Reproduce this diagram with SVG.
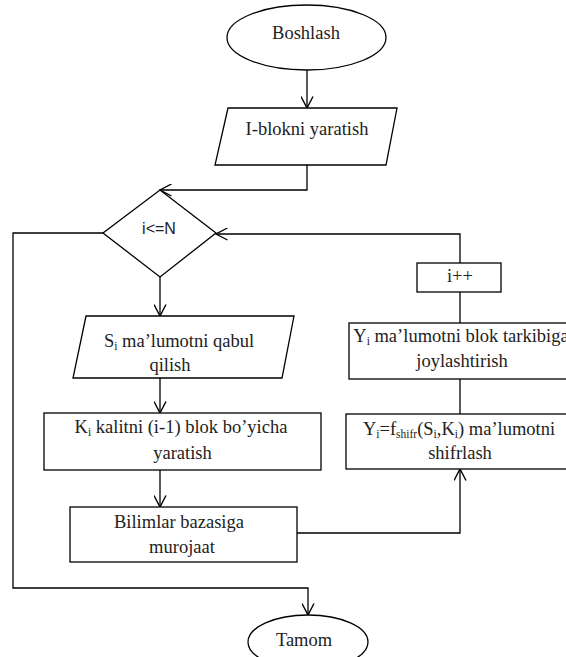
<svg xmlns="http://www.w3.org/2000/svg" width="566" height="657" viewBox="0 0 566 657">
<defs>
<marker id="arr" viewBox="0 0 13 13" refX="12" refY="6.5" markerWidth="13" markerHeight="13" markerUnits="userSpaceOnUse" orient="auto">
<path d="M0.5,0.5 L12,6.5 L0.5,12.5" fill="none" stroke="#000" stroke-width="1.4"/>
</marker>
<style>
.s{fill:#fff;stroke:#000;stroke-width:1.3}
.t{font-family:"Liberation Serif","Times New Roman",serif;font-size:18.5px;fill:#222;text-anchor:middle}
.a{font-family:"Liberation Sans",Arial,sans-serif;font-size:16px;fill:#222;text-anchor:middle}
.sub{font-size:11.5px}
.c{fill:none;stroke:#000;stroke-width:1.3}
.m{marker-end:url(#arr)}
</style>
</defs>
<rect width="566" height="657" fill="#fff"/>
<g id="connectors">
<path class="c m" d="M307,70 V108"/>
<path class="c m" d="M307,165 V190 H160"/>
<path class="c m" d="M160,277 V316"/>
<path class="c m" d="M160,378 V413"/>
<path class="c m" d="M160,470 V507"/>
<path class="c m" d="M297,533 H460 V469"/>
<path class="c" d="M460,414 V379"/>
<path class="c" d="M460,323 V292"/>
<path class="c m" d="M460,263 V234 H216"/>
<path class="c m" d="M103,233 H13 V588 H308 V615"/>
</g>
<g id="start">
<ellipse class="s" cx="306.5" cy="37.5" rx="79.5" ry="32.5"/>
<text class="t" x="306" y="39">Boshlash</text>
</g>
<g id="create-block">
<polygon class="s" points="228,108 397,108 386,165 215,165"/>
<text class="t" x="307" y="135">I-blokni yaratish</text>
</g>
<g id="condition">
<polygon class="s" points="160,190 216,233 160,277 103,233"/>
<text class="a" x="159" y="233.5">i&lt;=N</text>
</g>
<g id="receive">
<polygon class="s" points="86,316 294,316 282,378 73,378"/>
<text class="t" x="179" y="347">S<tspan class="sub" dy="3">i</tspan><tspan dy="-3"> ma’lumotni qabul</tspan></text>
<text class="t" x="170" y="371">qilish</text>
</g>
<g id="key">
<rect class="s" x="44" y="413" width="277" height="57"/>
<text class="t" x="181" y="433">K<tspan class="sub" dy="3">i</tspan><tspan dy="-3"> kalitni (i-1) blok bo’yicha</tspan></text>
<text class="t" x="182.5" y="459">yaratish</text>
</g>
<g id="knowledge">
<rect class="s" x="70" y="507" width="227" height="55"/>
<text class="t" x="179" y="528">Bilimlar bazasiga</text>
<text class="t" x="182" y="553">murojaat</text>
</g>
<g id="encrypt">
<rect class="s" x="346" y="414" width="230" height="55"/>
<text class="t" x="459" y="435">Y<tspan class="sub" dy="3">i</tspan><tspan dy="-3">=f</tspan><tspan class="sub" dy="3">shifr</tspan><tspan dy="-3">(S</tspan><tspan class="sub" dy="3">i</tspan><tspan dy="-3">,K</tspan><tspan class="sub" dy="3">i</tspan><tspan dy="-3">) ma’lumotni</tspan></text>
<text class="t" x="460" y="459">shifrlash</text>
</g>
<g id="place">
<rect class="s" x="349" y="323" width="226" height="56"/>
<text class="t" x="461" y="342">Y<tspan class="sub" dy="3">i</tspan><tspan dy="-3"> ma’lumotni blok tarkibiga</tspan></text>
<text class="t" x="462" y="367">joylashtirish</text>
</g>
<g id="increment">
<rect class="s" x="417" y="263" width="84" height="29"/>
<text class="t" x="460" y="282">i++</text>
</g>
<g id="end">
<ellipse class="s" cx="308" cy="642" rx="60" ry="27"/>
<text class="t" x="304" y="646">Tamom</text>
</g>
</svg>
